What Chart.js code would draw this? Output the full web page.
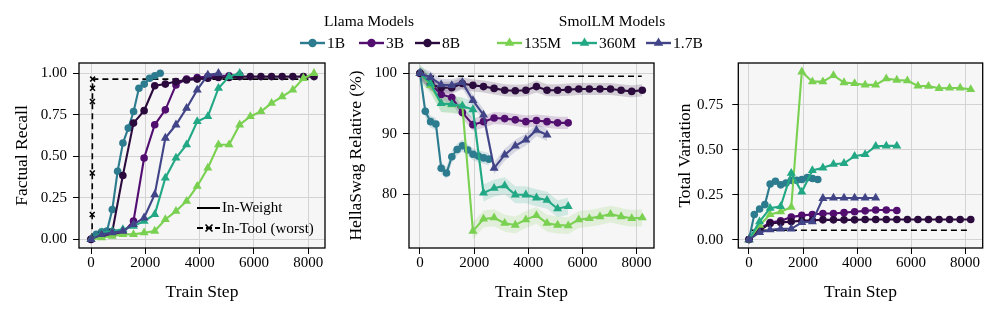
<!DOCTYPE html>
<html>
<head>
<meta charset="utf-8">
<script src="https://cdn.jsdelivr.net/npm/chart.js@4.4.1/dist/chart.umd.min.js"></script>
<style>
  body { margin: 0; background: #fff; width: 997px; height: 315px; overflow: hidden; position: relative;
         font-family: "Liberation Serif", "Times New Roman", serif; color: #000; }
  canvas { position: absolute; top: 0; }
  .t { position: absolute; font-size: 15.5px; line-height: 18px; white-space: nowrap; }
  .h { transform: translateX(-50%); }
  svg { position: absolute; overflow: visible; }
</style>
</head>
<body>
<canvas id="recall" width="340" height="315" style="left:0"></canvas>
<canvas id="hella" width="330" height="315" style="left:330px"></canvas>
<canvas id="tv" width="337" height="315" style="left:660px"></canvas>

<div class="t h" style="left:369px;top:12px">Llama Models</div>
<div class="t h" style="left:612px;top:12px">SmolLM Models</div>
<div id="legend"></div>

<script>
// train steps at which each checkpoint was evaluated
const steps1B = [0, 196, 392, 588, 784, 980, 1176, 1372, 1568, 1764, 1960, 2156, 2352, 2548];
const steps3B = [0, 391, 782, 1173, 1564, 1955, 2346, 2737, 3128, 3519, 3910, 4301, 4692, 5083, 5474];
const steps8B = [0, 391, 782, 1173, 1564, 1955, 2346, 2737, 3128, 3519, 3910, 4301, 4692, 5083, 5474, 5865, 6256, 6647, 7038, 7429, 7820, 8211];
const steps135M = steps8B;
const steps360M = steps3B;
const steps17B = [0, 391, 782, 1173, 1564, 1955, 2346, 2737, 3128, 3519, 3910, 4301, 4692];

// factual recall
const recall1B = [0, 0.03, 0.045, 0.05, 0.18, 0.41, 0.58, 0.67, 0.77, 0.91, 0.935, 0.97, 0.985, 1.0];
const recall3B = [0, 0.02, 0.03, 0.04, 0.11, 0.49, 0.69, 0.78, 0.93, 0.965, 0.975, 0.98, 0.985, 0.985, 0.99];
const recall8B = [0, 0.03, 0.045, 0.385, 0.70, 0.775, 0.925, 0.935, 0.95, 0.96, 0.965, 0.97, 0.975, 0.975, 0.98, 0.98, 0.98, 0.98, 0.98, 0.98, 0.98, 0.98];
const recall135M = [0, 0.01, 0.02, 0.03, 0.03, 0.04, 0.05, 0.12, 0.17, 0.23, 0.32, 0.43, 0.57, 0.57, 0.69, 0.74, 0.77, 0.82, 0.86, 0.90, 0.97, 1.0];
const recall360M = [0, 0.04, 0.05, 0.06, 0.08, 0.11, 0.15, 0.37, 0.49, 0.57, 0.71, 0.74, 0.91, 0.98, 1.0];
const recall17B = [0, 0.03, 0.04, 0.05, 0.09, 0.13, 0.27, 0.61, 0.69, 0.79, 0.90, 0.99, 1.0];
const toolRecallSteps = [40, 44, 48, 52, 56, 60, 8240];
const toolRecall = [0, 0.15, 0.40, 0.83, 0.91, 0.965, 0.965];

// hellaswag relative (%)
const hella1B = [100, 93.7, 92.0, 91.6, 84.3, 83.5, 86.2, 87.4, 88.0, 87.3, 86.6, 86.3, 86.0, 85.8];
const hella3B = [100, 98.3, 96.5, 96.0, 93.5, 91.5, 92.0, 92.6, 92.5, 92.3, 92.0, 92.2, 92.0, 91.8, 91.8];
const hella8B = [100, 98.2, 97.6, 97.6, 98.3, 98.0, 97.8, 97.5, 97.2, 97.1, 97.2, 97.8, 97.2, 97.2, 97.3, 97.4, 97.4, 97.4, 97.4, 97.2, 97.0, 97.2];
const hella135M = [100, 98.0, 95.0, 94.8, 94.6, 73.9, 75.9, 76.1, 75.2, 74.9, 75.8, 76.5, 75.2, 74.9, 74.8, 75.8, 76.0, 76.3, 76.7, 76.3, 76.0, 76.1];
const hella360M = [100, 98.3, 95.0, 94.9, 94.6, 94.0, 80.2, 81.0, 81.4, 79.9, 79.9, 79.4, 79.0, 77.6, 78.0];
const hella17B = [100, 99.3, 98.1, 98.0, 98.5, 95.5, 93.1, 84.3, 86.5, 88.0, 89.0, 90.6, 89.8];
const hellaSpread = [1.0, 1.0, 1.0, 1.4, 1.4, 1.0]; // 1B, 3B, 8B, 135M, 360M, 1.7B
const toolHellaSteps = [0, 50, 8190];
const toolHella = [100, 99.5, 99.5];

// total variation
const tv1B = [0, 0.14, 0.17, 0.195, 0.31, 0.325, 0.305, 0.315, 0.33, 0.33, 0.335, 0.345, 0.34, 0.335];
const tv3B = [0, 0.06, 0.095, 0.105, 0.125, 0.135, 0.14, 0.145, 0.145, 0.15, 0.155, 0.16, 0.165, 0.165, 0.162];
const tv8B = [0, 0.05, 0.09, 0.095, 0.10, 0.105, 0.108, 0.11, 0.11, 0.11, 0.11, 0.112, 0.112, 0.112, 0.112, 0.112, 0.112, 0.112, 0.112, 0.112, 0.112, 0.112];
const tv135M = [0, 0.08, 0.14, 0.155, 0.18, 0.935, 0.88, 0.88, 0.915, 0.875, 0.87, 0.862, 0.862, 0.897, 0.889, 0.886, 0.856, 0.855, 0.843, 0.845, 0.845, 0.837];
const tv360M = [0, 0.10, 0.175, 0.185, 0.37, 0.265, 0.385, 0.40, 0.42, 0.425, 0.465, 0.475, 0.52, 0.522, 0.522];
const tv17B = [0, 0.04, 0.055, 0.06, 0.06, 0.095, 0.10, 0.23, 0.232, 0.232, 0.232, 0.232, 0.232];
const toolTvSteps = [0, 50, 8120];
const toolTv = [0, 0.052, 0.052];

const xTicks = [0, 2000, 4000, 6000, 8000];
const recallTicks = [0, 0.25, 0.5, 0.75, 1.0];
const hellaTicks = [80, 90, 100];
const tvTicks = [0, 0.25, 0.5, 0.75];

const models = ['1B', '3B', '8B', '135M', '360M', '1.7B'];
const colors = ['#2c7b8e', '#520e6f', '#2b0a3d', '#7ad151', '#22a884', '#414487'];
const shapes = ['circle', 'circle', 'circle', 'triangle', 'triangle', 'triangle'];
const stepsFor = [steps1B, steps3B, steps8B, steps135M, steps360M, steps17B];

Chart.defaults.font.family = '"Liberation Serif", "Times New Roman", serif';
Chart.defaults.color = '#000';

function fade(hex, a) {
  const n = parseInt(hex.slice(1), 16);
  return `rgba(${n >> 16}, ${(n >> 8) & 255}, ${n & 255}, ${a})`;
}

function pts(steps, vals, shift) {
  return vals.map((v, i) => ({ x: steps[i], y: v + (shift || 0) }));
}

function modelSeries(k, vals) {
  const c = colors[k];
  return {
    data: pts(stepsFor[k], vals),
    borderColor: c, backgroundColor: c, borderWidth: 2.1,
    pointStyle: shapes[k], pointRadius: shapes[k] === 'circle' ? 3.8 : 5.2,
    pointBorderWidth: 0, pointBackgroundColor: c,
    order: 6 - k, tension: 0
  };
}

function bands(k, vals, err) {
  return [
    { data: pts(stepsFor[k], vals, err), borderWidth: 0, pointRadius: 0, fill: '+1',
      backgroundColor: fade(colors[k], 0.17), order: 20 },
    { data: pts(stepsFor[k], vals, -err), borderWidth: 0, pointRadius: 0, fill: false, order: 20 }
  ];
}

function toolSeries(steps, vals, markers) {
  return {
    data: pts(steps, vals),
    borderColor: '#000', backgroundColor: '#000', borderWidth: 1.6, borderDash: [6, 4],
    pointStyle: 'crossRot', pointRadius: markers ? vals.map((v, i) => i < vals.length - 1 ? 3.5 : 0) : 0,
    pointBorderWidth: 1.5, order: 10
  };
}

const framePlugin = {
  id: 'frame',
  beforeDraw(chart) {
    const { ctx, chartArea: a } = chart;
    ctx.save();
    ctx.fillStyle = '#f6f6f6';
    ctx.fillRect(a.left, a.top, a.right - a.left, a.bottom - a.top);
    ctx.restore();
  },
  afterDatasetsDraw(chart) {
    const { ctx, chartArea: a } = chart;
    ctx.save();
    ctx.strokeStyle = '#000';
    ctx.lineWidth = 1.3;
    ctx.strokeRect(a.left, a.top, a.right - a.left, a.bottom - a.top);
    ctx.restore();
  }
};

function makeChart(id, p) {
  new Chart(document.getElementById(id), {
    type: 'line',
    data: { datasets: p.datasets },
    plugins: [framePlugin],
    options: {
      responsive: false, animation: false, events: [],
      layout: { padding: { top: 63, right: p.right, left: 0, bottom: 0 } },
      plugins: { legend: { display: false }, tooltip: { enabled: false } },
      scales: {
        x: {
          type: 'linear', min: p.xMin, max: p.xMax,
          afterFit(s) { s.height = 67; },
          afterBuildTicks(s) { s.ticks = xTicks.map(v => ({ value: v })); },
          ticks: { font: { size: 15 }, color: '#000', padding: 0, maxRotation: 0, autoSkip: false,
                   callback: v => String(v) },
          grid: { color: '#d3d3d3', tickColor: '#000', tickLength: 6, lineWidth: 1 },
          border: { display: false },
          title: { display: true, text: 'Train Step', font: { size: 17.5 }, color: '#000',
                   padding: { top: 0, bottom: 12 } }
        },
        y: {
          type: 'linear', min: p.yMin, max: p.yMax,
          afterFit(s) { s.width = p.yWidth; },
          afterBuildTicks(s) { s.ticks = p.yTicks.map(v => ({ value: v })); },
          ticks: { font: { size: 15 }, color: '#000', padding: p.yPad, autoSkip: false,
                   callback: p.fmt },
          grid: { color: '#d3d3d3', tickColor: '#000', tickLength: 6, lineWidth: 1 },
          border: { display: false },
          title: { display: true, text: p.title, font: { size: 17.5 }, color: '#000',
                   padding: { top: p.titlePad, bottom: 0 } }
        }
      }
    }
  });
}

const recallVals = [recall1B, recall3B, recall8B, recall135M, recall360M, recall17B];
const hellaVals = [hella1B, hella3B, hella8B, hella135M, hella360M, hella17B];
const tvVals = [tv1B, tv3B, tv8B, tv135M, tv360M, tv17B];

makeChart('recall', {
  datasets: [...recallVals.map((v, k) => modelSeries(k, v)), toolSeries(toolRecallSteps, toolRecall, true)],
  xMin: -442, xMax: 8615, yMin: -0.052, yMax: 1.062, yTicks: recallTicks, yWidth: 79, yPad: 6,
  right: 15, title: 'Factual Recall', titlePad: 11.5, fmt: v => v.toFixed(2)
});

makeChart('hella', {
  datasets: [
    ...hellaVals.flatMap((v, k) => bands(k, v, hellaSpread[k])),
    ...hellaVals.map((v, k) => modelSeries(k, v)),
    toolSeries(toolHellaSteps, toolHella, false)
  ],
  xMin: -406, xMax: 8643, yMin: 71.1, yMax: 101.7, yTicks: hellaTicks, yWidth: 79, yPad: 6,
  right: 6, title: 'HellaSwag Relative (%)', titlePad: 16, fmt: v => String(v)
});

makeChart('tv', {
  datasets: [...tvVals.map((v, k) => modelSeries(k, v)), toolSeries(toolTvSteps, toolTv, false)],
  xMin: -396, xMax: 8654, yMin: -0.047, yMax: 0.984, yTicks: tvTicks, yWidth: 78.3, yPad: 9,
  right: 14.3, title: 'Total Variation', titlePad: 14.5, fmt: v => v.toFixed(2)
});

// model legend (top) and line-style legend (first panel)
const legendX = [300, 359, 415, 497, 572, 646];
const legend = document.getElementById('legend');
let html = '';
models.forEach((m, k) => {
  const x = legendX[k], c = colors[k];
  const mark = shapes[k] === 'circle'
    ? `<circle cx="12.5" cy="0" r="4.2" fill="${c}"/>`
    : `<polygon points="12.5,-5.5 17.3,2.8 7.7,2.8" fill="${c}"/>`;
  html += `<svg style="left:${x}px;top:43px" width="25" height="1">` +
          `<line x1="0" y1="0" x2="25" y2="0" stroke="${c}" stroke-width="2.4"/>${mark}</svg>` +
          `<div class="t" style="left:${x + 27}px;top:34px">${m}</div>`;
});
html += `<svg style="left:197px;top:207.5px" width="23" height="1">` +
        `<line x1="0" y1="0" x2="23" y2="0" stroke="#000" stroke-width="2"/></svg>` +
        `<div class="t" style="left:222px;top:198px;font-size:15px">In-Weight</div>`;
html += `<svg style="left:197px;top:228px" width="23" height="1">` +
        `<line x1="0" y1="0" x2="23" y2="0" stroke="#000" stroke-width="1.8" stroke-dasharray="6 3"/>` +
        `<path d="M8.5,-3.5 L15.5,3.5 M8.5,3.5 L15.5,-3.5" stroke="#000" stroke-width="1.6"/></svg>` +
        `<div class="t" style="left:222px;top:219px;font-size:15px">In-Tool (worst)</div>`;
legend.innerHTML = html;
</script>
</body>
</html>
